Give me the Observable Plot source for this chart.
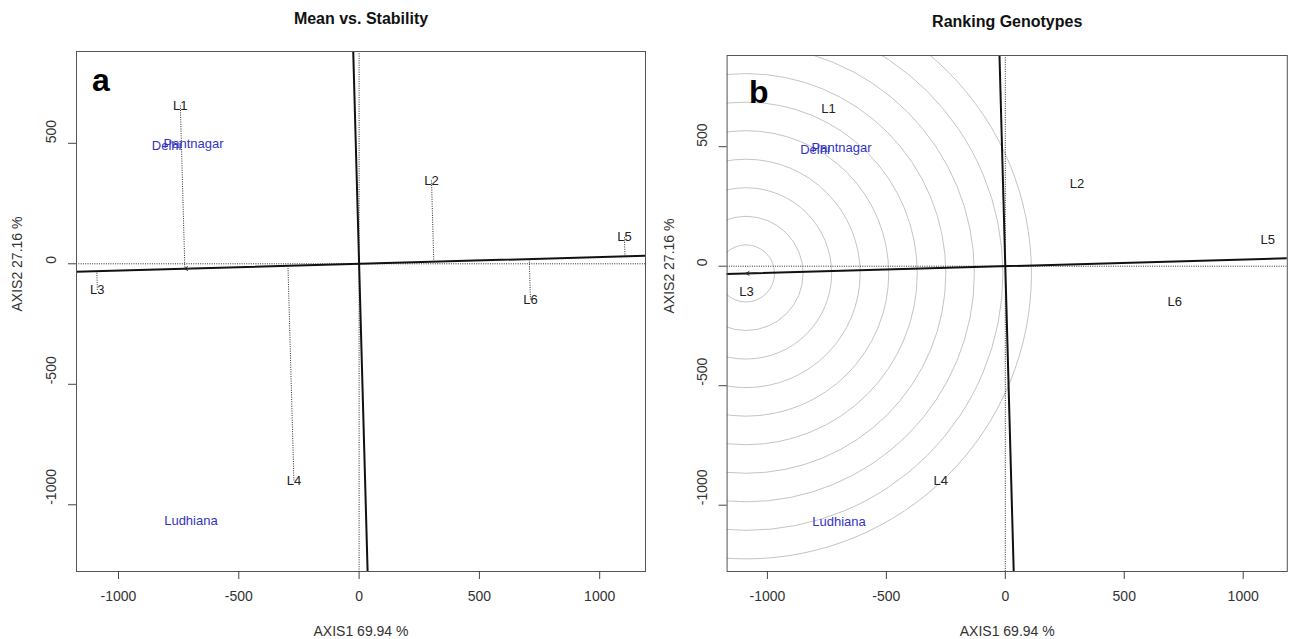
<!DOCTYPE html>
<html><head><meta charset="utf-8">
<script src="https://cdn.jsdelivr.net/npm/d3@7"></script>
<script src="https://cdn.jsdelivr.net/npm/@observablehq/plot@0.6"></script>
<style>
body{margin:0;background:#fff;}
#wrap{position:relative;width:1293px;height:639px;overflow:hidden;background:#fff;}
#wrap svg{position:absolute;top:0;background:transparent;}
</style></head><body><div id="wrap"></div>
<script>
// ---- data ----
const genotypes = ["L1", "L2", "L3", "L4", "L5", "L6"];
const genoX = [-743, 301, -1088, -271, 1103, 712];
const genoY = [657, 346, -108, -899, 110, -148];
const environments = ["Delhi", "Pantnagar", "Ludhiana"];
const envX = [-800, -688, -699];
const envY = [489, 497, -1068];
const aeaSlope = 0.0277;          // average environment axis (through origin)
const meanEnvX = -726;            // arrow position on AEA, panel a
const idealX = -1090;             // ideal genotype on AEA, panel b
const circleRadii = [120, 240, 360, 480, 600, 720, 840, 960, 1080, 1200];
const xTicks = [-1000, -500, 0, 500, 1000];
const yTicks = [-1000, -500, 0, 500];
const titles = ["Mean vs. Stability", "Ranking Genotypes"];
const panelLetters = ["a", "b"];
const xTitle = "AXIS1 69.94 %";
const yTitle = "AXIS2 27.16 %";

const FONT = "Liberation Sans, Arial, Helvetica, sans-serif";
const gIdx = genotypes.map((_, i) => i);
const eIdx = environments.map((_, i) => i);
const proj = i => {
  const t = (genoX[i] + aeaSlope * genoY[i]) / (1 + aeaSlope * aeaSlope);
  return [t, aeaSlope * t];
};

function panel(p) {
  const [x0, x1] = p.xDomain, [y0, y1] = p.yDomain;
  const frameW = p.width - p.ml - p.mr;
  const pxPerUnit = frameW / (x1 - x0);
  const aea = [[x0 - 200, aeaSlope * (x0 - 200)], [x1 + 200, aeaSlope * (x1 + 200)]];
  const perp = [[-aeaSlope * (y0 - 200), y0 - 200], [-aeaSlope * (y1 + 200), y1 + 200]];
  const dotted = {stroke: "#2a2a2a", strokeWidth: 1, strokeDasharray: "1,1.3"};
  const marks = [];
  if (p.circles) {
    marks.push(Plot.dot(circleRadii, {
      x: () => idealX, y: () => aeaSlope * idealX, r: d => d,
      stroke: "#c4c4c4", strokeWidth: 1, fill: "none", clip: true
    }));
  }
  marks.push(
    Plot.ruleY([0], {...dotted, clip: true}),
    Plot.ruleX([0], {...dotted, clip: true})
  );
  if (p.projections) {
    marks.push(Plot.link(gIdx, {
      x1: i => genoX[i], y1: i => genoY[i],
      x2: i => proj(i)[0], y2: i => proj(i)[1],
      ...dotted, clip: true
    }));
  }
  const mid = {lineAnchor: "middle"};
  marks.push(
    Plot.line(aea, {x: d => d[0], y: d => d[1], stroke: "#111", strokeWidth: 2, clip: true}),
    Plot.line(perp, {x: d => d[0], y: d => d[1], stroke: "#111", strokeWidth: 2, clip: true}),
    Plot.arrow([p.arrowX], {
      x1: d => d + 45, y1: d => aeaSlope * (d + 45),
      x2: d => d, y2: d => aeaSlope * d,
      stroke: "#222", strokeWidth: 1, headLength: 8, headAngle: 62
    }),
    Plot.text(eIdx, {x: i => envX[i], y: i => envY[i], text: i => environments[i],
      fill: "#3434c4", fontSize: 13}),
    Plot.text(gIdx, {x: i => genoX[i], y: i => genoY[i], text: i => genotypes[i],
      fill: "#222", fontSize: 13}),
    Plot.frame({stroke: "#555", strokeWidth: 1}),
    Plot.axisX({ticks: xTicks, tickSize: 8, tickFormat: () => "", label: null, stroke: "#444"}),
    Plot.axisY({ticks: yTicks, tickSize: 8, tickFormat: () => "", label: null, stroke: "#444"}),
    Plot.text(xTicks, {x: d => d, text: d => String(d), frameAnchor: "bottom", dy: 25.5,
      fontSize: 14, fill: "#333", ...mid}),
    Plot.text(yTicks, {y: d => d, text: d => String(d), frameAnchor: "left", dx: -25,
      rotate: -90, fontSize: 14, fill: "#333", ...mid}),
    Plot.text([xTitle], {text: d => d, frameAnchor: "bottom", dy: 60, fontSize: 14, fill: "#333", ...mid}),
    Plot.text([yTitle], {text: d => d, frameAnchor: "left", dx: p.yTitleDx, rotate: -90,
      fontSize: 14, fill: "#333", ...mid}),
    Plot.text([p.title], {text: d => d, frameAnchor: "top", dy: p.titleDy, fontSize: 16,
      fontWeight: "bold", fill: "#111", ...mid}),
    Plot.text([p.letter], {text: d => d, frameAnchor: "top-left", dx: p.letterDx, dy: p.letterDy,
      textAnchor: "start", fontSize: 32, fontWeight: "bold", fill: "#000", ...mid})
  );
  const chart = Plot.plot({
    width: p.width, height: 639,
    marginLeft: p.ml, marginRight: p.mr, marginTop: p.mt, marginBottom: p.mb,
    x: {domain: p.xDomain},
    y: {domain: p.yDomain},
    r: {type: "linear", domain: [0, 1000], range: [0, 1000 * pxPerUnit]},
    style: {fontFamily: FONT, fontSize: "14px", background: "transparent", overflow: "visible"},
    marks
  });
  chart.style.left = p.left + "px";
  return chart;
}

const wrap = document.getElementById("wrap");
wrap.appendChild(panel({
  left: 0, width: 650, ml: 76, mr: 5, mt: 51, mb: 68,
  xDomain: [-1174.6, 1190.4], yDomain: [-1276.8, 880.9],
  title: titles[0], letter: panelLetters[0], titleDy: -33, letterDx: 15.5, letterDy: 29.5,
  yTitleDx: -59, arrowX: meanEnvX, projections: true, circles: false
}));
wrap.appendChild(panel({
  left: 650, width: 643, ml: 76.6, mr: 6.2, mt: 55, mb: 68,
  xDomain: [-1169.4, 1185.4], yDomain: [-1277.4, 881.6],
  title: titles[1], letter: panelLetters[1], titleDy: -33.5, letterDx: 22, letterDy: 37,
  yTitleDx: -57.5, arrowX: idealX, projections: false, circles: true
}));
</script></body></html>
